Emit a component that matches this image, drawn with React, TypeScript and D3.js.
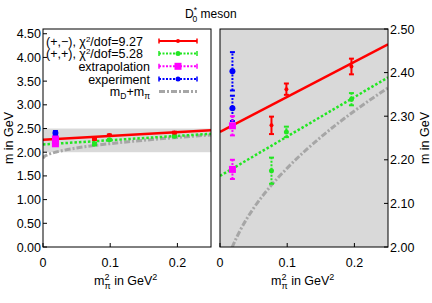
import { line, curveMonotoneX, scaleLinear } from "d3";

// values
const xTicks = [0, 0.1, 0.2];
const xTickLabels = ["0", "0.1", "0.2"];
const leftYTicks = [0, 0.5, 1, 1.5, 2, 2.5, 3, 3.5, 4, 4.5];
const rightYTicks = [2.0, 2.1, 2.2, 2.3, 2.4, 2.5];

const pmX = [0.0766, 0.0988, 0.1956];
const pmY = [2.279, 2.362, 2.414];
const pmErr = [0.02, 0.013, 0.018];

const ppX = [0.0766, 0.0988, 0.1956];
const ppY = [2.175, 2.264, 2.339];
const ppErr = [0.03, 0.012, 0.014];

const extrapX = [0.0185, 0.0185];
const extrapY = [2.278, 2.178];
const extrapErr = [0.022, 0.022];

const expX = [0.0185, 0.0185];
const expY = [2.403, 2.318];
const expErr = [0.044, 0.029];

const fitPMX = [0, 0.25];
const fitPMY = [2.264, 2.465];
const fitPPX = [0, 0.25];
const fitPPY = [2.163, 2.389];

const thrX = [0, 0.0005, 0.002, 0.005, 0.01, 0.02, 0.03, 0.05, 0.075, 0.1, 0.15, 0.2, 0.25];
const thrY = [1.865, 1.887, 1.910, 1.936, 1.965, 2.006, 2.038, 2.089, 2.139, 2.181, 2.252, 2.312, 2.365];

const FONT = "Liberation Sans, Arial, sans-serif";
const RED = "#ff0000";
const GREEN = "#22e622";
const MAGENTA = "#ff00ff";
const BLUE = "#0000ff";
const GREY = "#a6a6a6";
const BG = "#d9d9d9";

const top = 29;
const bottom = 247;

type Scale = (v: number) => number;

function ErrorPoints({
  xs, ys, errs, sx, sy, color, dash, marker, size,
}: {
  xs: number[]; ys: number[]; errs: number[]; sx: Scale; sy: Scale;
  color: string; dash?: string; marker: "circle" | "square"; size: number;
}) {
  return (
    <g>
      {xs.map((xv, i) => {
        const x = sx(xv);
        const y0 = sy(ys[i] - errs[i]);
        const y1 = sy(ys[i] + errs[i]);
        const y = sy(ys[i]);
        return (
          <g key={i}>
            <line x1={x} x2={x} y1={y0} y2={y1} stroke={color} strokeWidth={2} strokeDasharray={dash} />
            <line x1={x - 2.5} x2={x + 2.5} y1={y0} y2={y0} stroke={color} strokeWidth={2} />
            <line x1={x - 2.5} x2={x + 2.5} y1={y1} y2={y1} stroke={color} strokeWidth={2} />
            {marker === "circle" ? (
              <circle cx={x} cy={y} r={size} fill={color} />
            ) : (
              <rect x={x - size} y={y - size} width={size * 2} height={size * 2} fill={color} />
            )}
          </g>
        );
      })}
    </g>
  );
}

function Panel({
  sx, sy, id, x0, x1,
}: { sx: any; sy: any; id: string; x0: number; x1: number }) {
  const lineGen = line<[number, number]>().x((d) => sx(d[0])).y((d) => sy(d[1]));
  const curveGen = line<[number, number]>().x((d) => sx(d[0])).y((d) => sy(d[1])).curve(curveMonotoneX);
  const zip = (a: number[], b: number[]) => a.map((v, i) => [v, b[i]] as [number, number]);
  return (
    <g>
      <defs>
        <clipPath id={id}>
          <rect x={x0} y={top} width={x1 - x0} height={bottom - top} />
        </clipPath>
      </defs>
      <g clipPath={`url(#${id})`}>
        <path d={curveGen(zip(thrX, thrY)) || ""} fill="none" stroke={GREY} strokeWidth={3} strokeDasharray="6,2,2,2" />
        <path d={lineGen(zip(fitPPX, fitPPY)) || ""} fill="none" stroke={GREEN} strokeWidth={2.5} strokeDasharray="2.5,2" />
        <path d={lineGen(zip(fitPMX, fitPMY)) || ""} fill="none" stroke={RED} strokeWidth={2.5} />
        <ErrorPoints xs={ppX} ys={ppY} errs={ppErr} sx={sx} sy={sy} color={GREEN} dash="2,1.5" marker="circle" size={2.5} />
        <ErrorPoints xs={pmX} ys={pmY} errs={pmErr} sx={sx} sy={sy} color={RED} marker="circle" size={2} />
        <ErrorPoints xs={expX} ys={expY} errs={expErr} sx={sx} sy={sy} color={BLUE} dash="2,1.5" marker="circle" size={3} />
        <ErrorPoints xs={extrapX} ys={extrapY} errs={extrapErr} sx={sx} sy={sy} color={MAGENTA} dash="2,1.5" marker="square" size={3.5} />
      </g>
    </g>
  );
}

function LegendRow({ y, color, dash, label, marker, size }: {
  y: number; color: string; dash?: string; label: any; marker?: "circle" | "square"; size?: number;
}) {
  const a = 159, b = 197, m = (a + b) / 2;
  return (
    <g>
      <text x={150} y={y + 4.5} textAnchor="end" fontSize={12.5} fontFamily={FONT}>{label}</text>
      <line x1={a} x2={b} y1={y} y2={y} stroke={color} strokeWidth={marker ? 2 : 3} strokeDasharray={dash} />
      {marker && (
        <>
          <line x1={a} x2={a} y1={y - 2.5} y2={y + 2.5} stroke={color} strokeWidth={1.5} />
          <line x1={b} x2={b} y1={y - 2.5} y2={y + 2.5} stroke={color} strokeWidth={1.5} />
          {marker === "circle" ? (
            <circle cx={m} cy={y} r={size} fill={color} />
          ) : (
            <rect x={m - size!} y={y - size!} width={size! * 2} height={size! * 2} fill={color} />
          )}
        </>
      )}
    </g>
  );
}

function XLabel({ cx }: { cx: number }) {
  return (
    <text x={cx - 33} y={285} fontSize={12.5} fontFamily={FONT}>
      m
      <tspan fontSize={9} dy={-5}>2</tspan>
      <tspan fontSize={9} dx={-5} dy={9}>π</tspan>
      <tspan dy={-4}> in GeV</tspan>
      <tspan fontSize={9} dy={-5}>2</tspan>
    </text>
  );
}

export default function App() {
  const lx = scaleLinear().domain([0, 0.25]).range([43, 211]);
  const ly = scaleLinear().domain([0, 4.6]).range([bottom, top]);
  const rx = scaleLinear().domain([0, 0.25]).range([220, 388]);
  const ry = scaleLinear().domain([2.0, 2.5]).range([bottom, top]);

  return (
    <svg width={432} height={303} style={{ position: "absolute", left: 0, top: 0, background: "#fff" }}>
      {/* title */}
      <text x={185} y={18} fontSize={12} fontFamily={FONT}>
        D<tspan fontSize={8.5} dy={-5}>*</tspan>
        <tspan fontSize={8.5} dx={-4.5} dy={8.5}>0</tspan>
        <tspan dy={-3.5}> meson</tspan>
      </text>

      {/* left panel */}
      <rect x={43} y={ly(2.5)} width={211 - 43} height={ly(2.0) - ly(2.5)} fill={BG} />
      <Panel sx={lx} sy={ly} id="clipL" x0={43} x1={211} />
      <rect x={43} y={top} width={211 - 43} height={bottom - top} fill="none" stroke="#000" strokeWidth={1} />
      {leftYTicks.map((t) => (
        <g key={t}>
          <line x1={43} x2={47} y1={ly(t)} y2={ly(t)} stroke="#000" />
          <text x={41} y={ly(t) + 4.5} textAnchor="end" fontSize={12.5} fontFamily={FONT}>{t.toFixed(2)}</text>
        </g>
      ))}
      {xTicks.map((t, i) => (
        <g key={t}>
          <line x1={lx(t)} x2={lx(t)} y1={bottom} y2={bottom - 4} stroke="#000" />
          <text x={lx(t)} y={267} textAnchor="middle" fontSize={12.5} fontFamily={FONT}>{xTickLabels[i]}</text>
        </g>
      ))}
      <text transform="translate(13,138) rotate(-90)" textAnchor="middle" fontSize={12.5} fontFamily={FONT}>m in GeV</text>
      <XLabel cx={127} />

      {/* legend */}
      <text x={46} y={45.5} fontSize={12.5} fontFamily={FONT}>
        (+,−), χ<tspan fontSize={8} dy={-4}>2</tspan><tspan dy={4}>/dof=9.27</tspan>
      </text>
      <LegendRow y={41} color={RED} label="" marker="circle" size={2} />
      <text x={46} y={58} fontSize={12.5} fontFamily={FONT}>
        (+,+), χ<tspan fontSize={8} dy={-4}>2</tspan><tspan dy={4}>/dof=5.28</tspan>
      </text>
      <LegendRow y={53.5} color={GREEN} dash="2,1.5" label="" marker="circle" size={2.5} />
      <LegendRow y={66.3} color={MAGENTA} dash="2,1.5" label="extrapolation" marker="square" size={3.5} />
      <LegendRow y={79} color={BLUE} dash="2,1.5" label="experiment" marker="circle" size={2.5} />
      <LegendRow
        y={91.5}
        color={GREY}
        dash="6,2,2,2"
        label={<>m<tspan fontSize={8.5} dy={3}>D</tspan><tspan dy={-3}>+m</tspan><tspan fontSize={8.5} dy={3}>π</tspan></>}
      />

      {/* right panel */}
      <rect x={220} y={top} width={388 - 220} height={bottom - top} fill={BG} />
      <Panel sx={rx} sy={ry} id="clipR" x0={220} x1={388} />
      <rect x={220} y={top} width={388 - 220} height={bottom - top} fill="none" stroke="#000" strokeWidth={1} />
      {rightYTicks.map((t) => (
        <g key={t}>
          <line x1={388} x2={384} y1={ry(t)} y2={ry(t)} stroke="#000" />
          <text x={390} y={ry(t) + 4.5} fontSize={12.5} fontFamily={FONT}>{t.toFixed(2)}</text>
        </g>
      ))}
      {xTicks.map((t, i) => (
        <g key={t}>
          <line x1={rx(t)} x2={rx(t)} y1={bottom} y2={bottom - 4} stroke="#000" />
          <text x={rx(t)} y={267} textAnchor="middle" fontSize={12.5} fontFamily={FONT}>{xTickLabels[i]}</text>
        </g>
      ))}
      <text transform="translate(429,138) rotate(-90)" textAnchor="middle" fontSize={12.5} fontFamily={FONT}>m in GeV</text>
      <XLabel cx={304} />
    </svg>
  );
}
